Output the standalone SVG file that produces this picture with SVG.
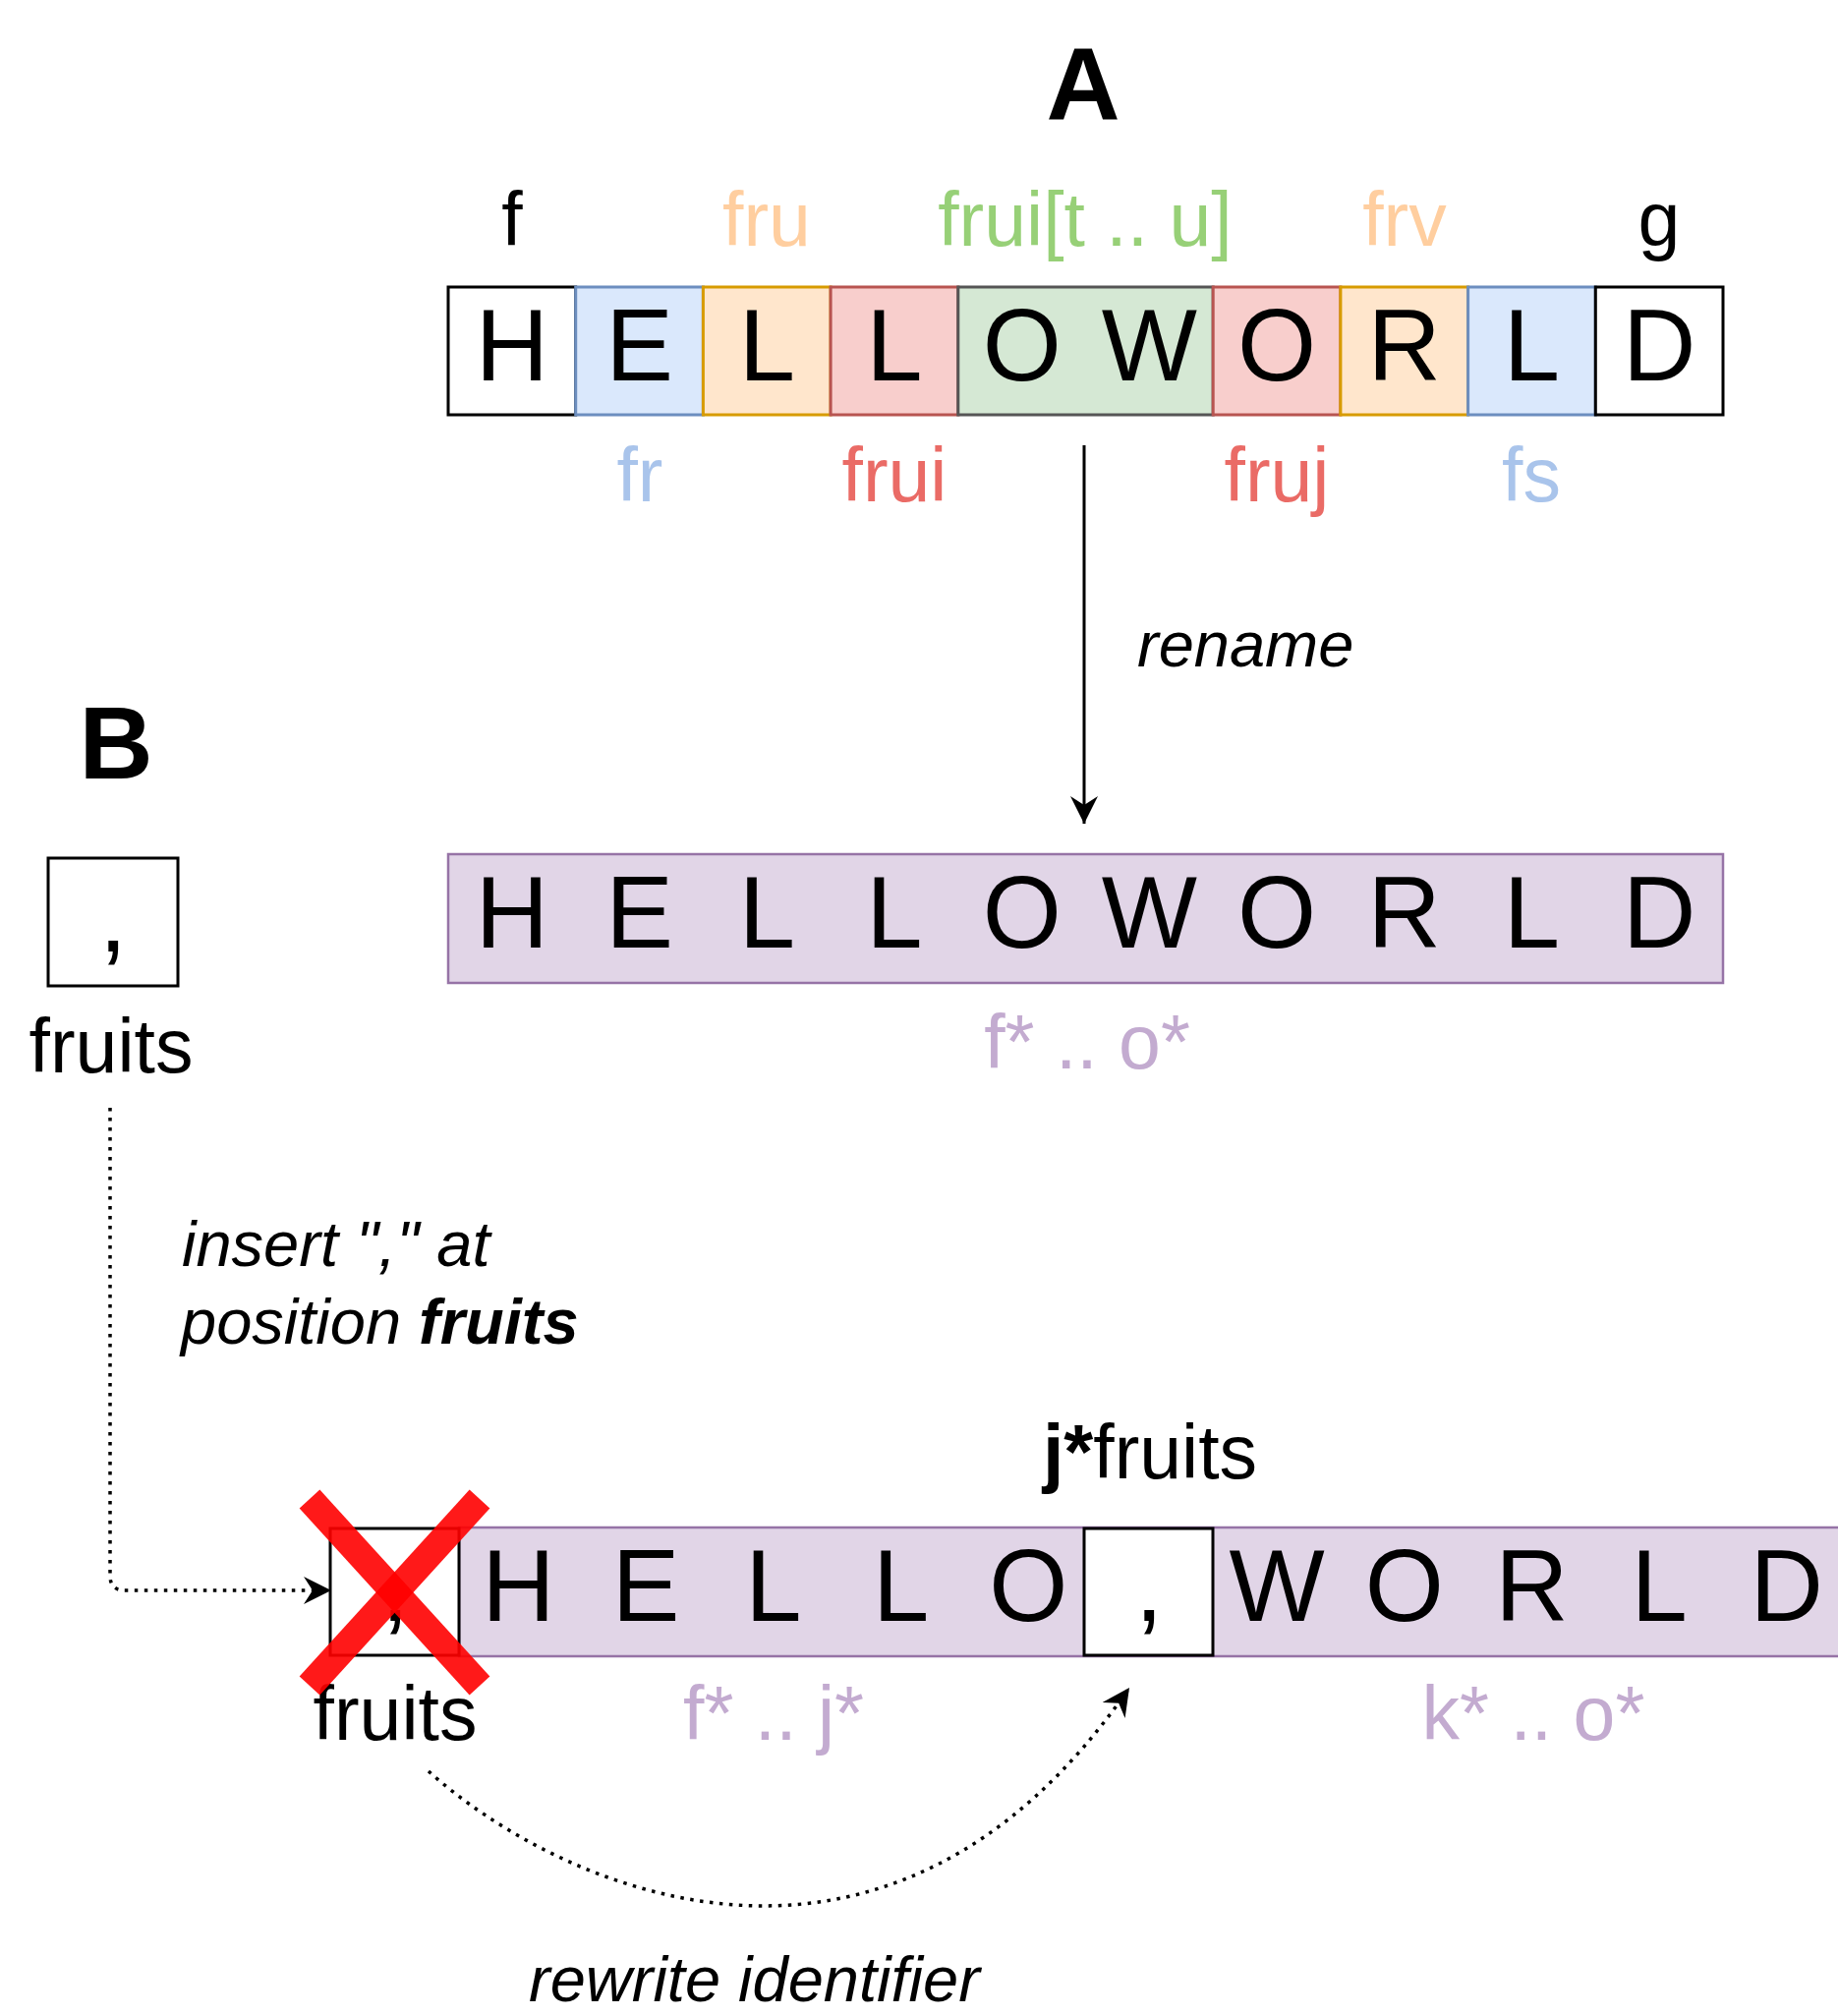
<svg xmlns="http://www.w3.org/2000/svg" width="1870" height="2051" viewBox="0 0 1870 2051">
<style>
.t{font-family:"Liberation Sans",Arial,Helvetica,sans-serif;}
.cell{font-family:"Liberation Sans",Arial,Helvetica,sans-serif;font-size:103px;text-anchor:middle;fill:#000;}
.lbl{font-family:"Liberation Sans",Arial,Helvetica,sans-serif;font-size:77px;text-anchor:middle;}
.it{font-family:"Liberation Sans",Arial,Helvetica,sans-serif;font-size:65px;font-style:italic;fill:#000;}
.hd{font-family:"Liberation Sans",Arial,Helvetica,sans-serif;font-size:104px;font-weight:bold;text-anchor:middle;fill:#000;}
.bw{fill:#ffffff;stroke:#000000;stroke-width:3;}
.blue{fill:#dae8fc;stroke:#6c8ebf;stroke-width:3;}
.orange{fill:#ffe6cc;stroke:#d79b00;stroke-width:3;}
.red{fill:#f8cecc;stroke:#b85450;stroke-width:3;}
.green{fill:#d5e8d4;stroke:#555555;stroke-width:3;}
.purple{fill:#e1d5e7;stroke:#9673a6;stroke-width:2.5;}
.dot{fill:none;stroke:#000;stroke-width:3.5;stroke-dasharray:3.5 6.5;}
</style>
<defs>
<marker id="arr" markerUnits="userSpaceOnUse" viewBox="0 0 28 28" markerWidth="28" markerHeight="28" refX="28" refY="14" orient="auto">
<path d="M0,0 L28,14 L0,28 L9,14 Z" fill="#000" stroke="none"/>
</marker>
</defs>
<rect width="1870" height="2051" fill="#ffffff"/>

<g id="title-A"><text class="hd" x="1102" y="121">A</text></g>
<g id="title-B"><text class="hd" x="118" y="792">B</text></g>

<g id="row-A">
<rect class="bw" x="456" y="292" width="129.7" height="130"/>
<rect class="blue" x="585.7" y="292" width="129.7" height="130"/>
<rect class="orange" x="715.4" y="292" width="129.7" height="130"/>
<rect class="red" x="845.1" y="292" width="129.7" height="130"/>
<rect class="green" x="974.8" y="292" width="259.4" height="130"/>
<rect class="red" x="1234.2" y="292" width="129.7" height="130"/>
<rect class="orange" x="1363.9" y="292" width="129.7" height="130"/>
<rect class="blue" x="1493.6" y="292" width="129.7" height="130"/>
<rect class="bw" x="1623.3" y="292" width="129.7" height="130"/>
<text class="cell" x="520.9" y="387">H</text>
<text class="cell" x="650.6" y="387">E</text>
<text class="cell" x="780.3" y="387">L</text>
<text class="cell" x="910" y="387">L</text>
<text class="cell" x="1039.7" y="387">O</text>
<text class="cell" x="1169.4" y="387">W</text>
<text class="cell" x="1299.1" y="387">O</text>
<text class="cell" x="1428.8" y="387">R</text>
<text class="cell" x="1558.5" y="387">L</text>
<text class="cell" x="1688.2" y="387">D</text>
<text class="lbl" x="521" y="250" fill="#000000">f</text>
<text class="lbl" x="780" y="250" fill="#FFCE9F">fru</text>
<text class="lbl" x="1104" y="250" fill="#97D077">frui[t .. u]</text>
<text class="lbl" x="1429" y="250" fill="#FFCE9F">frv</text>
<text class="lbl" x="1688" y="250" fill="#000000">g</text>
<text class="lbl" x="651" y="510" fill="#A9C4EB">fr</text>
<text class="lbl" x="910" y="510" fill="#EA6B66">frui</text>
<text class="lbl" x="1299" y="510" fill="#EA6B66">fruj</text>
<text class="lbl" x="1558" y="510" fill="#A9C4EB">fs</text>
</g>

<g id="row-renamed">
<rect class="purple" x="456" y="869" width="1297" height="131"/>
<text class="cell" x="520.9" y="964">H</text>
<text class="cell" x="650.6" y="964">E</text>
<text class="cell" x="780.3" y="964">L</text>
<text class="cell" x="910" y="964">L</text>
<text class="cell" x="1039.7" y="964">O</text>
<text class="cell" x="1169.4" y="964">W</text>
<text class="cell" x="1299.1" y="964">O</text>
<text class="cell" x="1428.8" y="964">R</text>
<text class="cell" x="1558.5" y="964">L</text>
<text class="cell" x="1688.2" y="964">D</text>
<text class="lbl" x="1106" y="1087" fill="#C3ABD0">f* .. o*</text>
</g>

<g id="comma-source">
<rect class="bw" x="49" y="873" width="132" height="130"/>
<text class="cell" x="115" y="968">,</text>
<text class="lbl" x="113" y="1091" fill="#000">fruits</text>
</g>

<g id="row-inserted">
<rect class="purple" x="467" y="1554" width="1420" height="131"/>
<text class="cell" x="527.5" y="1649">H</text>
<text class="cell" x="657.2" y="1649">E</text>
<text class="cell" x="786.9" y="1649">L</text>
<text class="cell" x="916.6" y="1649">L</text>
<text class="cell" x="1046.3" y="1649">O</text>
<text class="cell" x="1299" y="1649">W</text>
<text class="cell" x="1428.7" y="1649">O</text>
<text class="cell" x="1558.4" y="1649">R</text>
<text class="cell" x="1688.1" y="1649">L</text>
<text class="cell" x="1817.8" y="1649">D</text>
<text class="lbl" x="787" y="1770" fill="#C3ABD0">f* .. j*</text>
<text class="lbl" x="1560" y="1770" fill="#C3ABD0">k* .. o*</text>
</g>

<g id="comma-inserted">
<rect class="bw" x="1103" y="1555" width="131" height="129"/>
<text class="cell" x="1169" y="1649">,</text>
<text class="lbl" x="1170" y="1504" fill="#000"><tspan font-weight="bold">j*</tspan>fruits</text>
</g>

<g id="comma-old">
<rect class="bw" x="336" y="1555" width="131" height="129"/>
<text class="cell" x="402" y="1649">,</text>
<text class="lbl" x="402" y="1770" fill="#000">fruits</text>
</g>

<g id="cross">
<line x1="315" y1="1525" x2="488" y2="1715" stroke="#ff0000" stroke-opacity="0.9" stroke-width="28"/>
<line x1="488" y1="1525" x2="315" y2="1715" stroke="#ff0000" stroke-opacity="0.9" stroke-width="28"/>
</g>

<g id="connectors">
<line x1="1103" y1="453" x2="1103" y2="838" stroke="#000" stroke-width="3" marker-end="url(#arr)"/>
<path class="dot" d="M112,1127 L112,1603 Q112,1618 127,1618 L337,1618" marker-end="url(#arr)"/>
<path class="dot" d="M436,1802 C567,1920 902,2075 1149,1717" marker-end="url(#arr)"/>
</g>

<g id="edge-labels">
<text class="it" x="1157" y="678">rename</text>
<text class="it" x="185" y="1288">insert "," at</text>
<text class="it" x="184" y="1367">position <tspan font-weight="bold">fruits</tspan></text>
<text class="it" x="538" y="2036">rewrite identifier</text>
</g>
</svg>
